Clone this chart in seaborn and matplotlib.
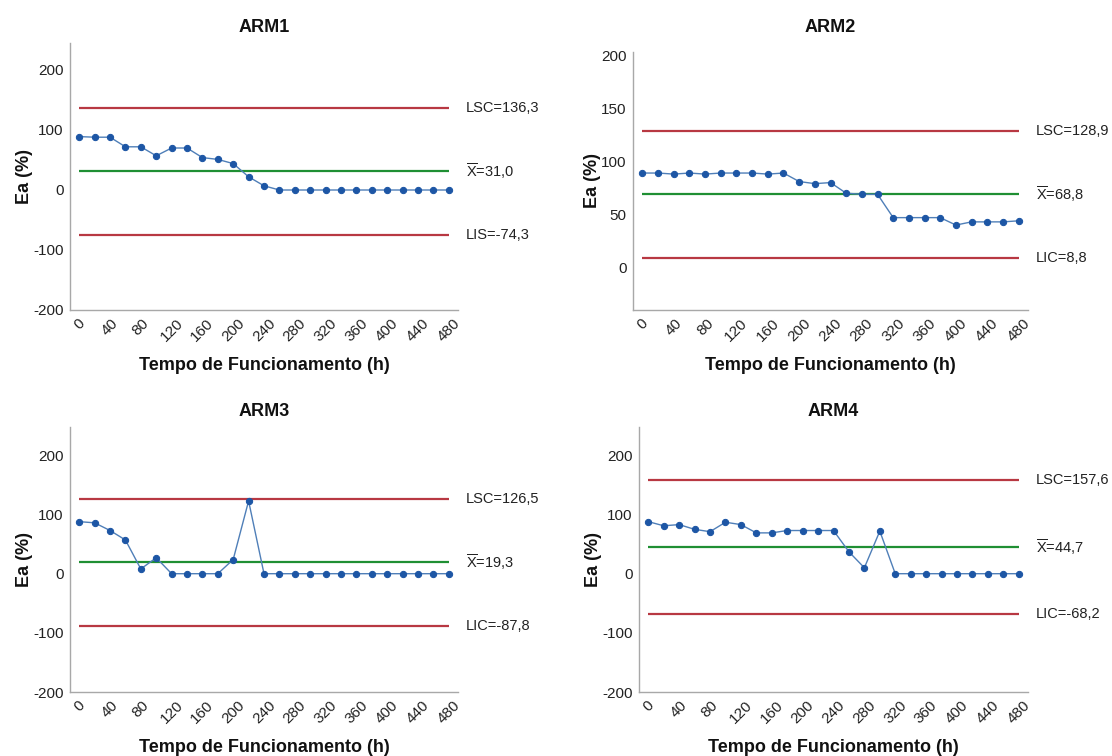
import numpy as np
import pandas as pd
import matplotlib
matplotlib.use("Agg")
import matplotlib.pyplot as plt
import seaborn as sns

# Operating time (h), sampled every 20 h
hours = list(range(0, 481, 20))

arm1 = [89, 88, 88, 72, 72, 57, 70, 70, 54, 51, 44, 22, 7,
        0, 0, 0, 0, 0, 0, 0, 0, 0, 0, 0, 0]
arm2 = [89, 89, 88, 89, 88, 89, 89, 89, 88, 89, 81, 79, 80,
        70, 69, 69, 47, 47, 47, 47, 40, 43, 43, 43, 44]
arm3 = [88, 86, 73, 57, 8, 27, 0, 0, 0, 0, 24, 123,
        0, 0, 0, 0, 0, 0, 0, 0, 0, 0, 0, 0, 0]
arm4 = [88, 81, 83, 75, 71, 87, 83, 69, 69, 73, 73, 73, 73,
        37, 10, 72, 0, 0, 0, 0, 0, 0, 0, 0, 0]

names = ["ARM1", "ARM2", "ARM3", "ARM4"]
series = [arm1, arm2, arm3, arm4]
upper_limits = [136.3, 128.9, 126.5, 157.6]
means = [31.0, 68.8, 19.3, 44.7]
lower_limits = [-74.3, 8.8, -87.8, -68.2]
lower_names = ["LIS", "LIC", "LIC", "LIC"]

y_ranges = [(-200, 245), (-40, 203), (-200, 248), (-200, 248)]
y_ticks = [[-200, -100, 0, 100, 200], [0, 50, 100, 150, 200],
           [-200, -100, 0, 100, 200], [-200, -100, 0, 100, 200]]
x_ticks = list(range(0, 481, 40))

sns.set_style("white")
plt.rcParams["font.family"] = ["Liberation Sans", "DejaVu Sans"]
plt.rcParams["mathtext.fontset"] = "custom"
plt.rcParams["mathtext.rm"] = "Liberation Sans"
plt.rcParams["mathtext.sf"] = "Liberation Sans"

W, H = 1112, 756
fig = plt.figure(figsize=(W / 100, H / 100), dpi=100)

# axes boxes in pixels: left, top, right, bottom
boxes = [(70, 43, 458, 310), (633, 52, 1028, 310),
         (70, 427, 458, 692), (639, 427, 1028, 692)]
title_pads = [8, 14.5, 8, 8]

RED = "#b83842"
GREEN = "#1f8f33"
LINE = "#4f7fb8"
MARK = "#1d56a5"
SPINE = "#a8a8a8"
TXT = "#222222"


def fmt(v):
    return f"{v:.1f}".replace(".", ",")


for i, name in enumerate(names):
    l, t, r, b = boxes[i]
    ax = fig.add_axes([l / W, (H - b) / H, (r - l) / W, (b - t) / H])
    df = pd.DataFrame({"h": hours, "ea": series[i]})

    x0, x1 = hours[0], hours[-1]
    ax.hlines([upper_limits[i], lower_limits[i]], x0, x1, color=RED, lw=1.6, zorder=1)
    ax.hlines(means[i], x0, x1, color=GREEN, lw=1.6, zorder=1)

    sns.lineplot(data=df, x="h", y="ea", ax=ax, color=LINE, lw=1.0,
                 marker="o", markersize=4.5, markerfacecolor=MARK,
                 markeredgecolor=MARK, zorder=3)

    ax.set_xlim(-12, 492)
    ax.set_ylim(*y_ranges[i])
    ax.set_xticks(x_ticks)
    ax.set_xticklabels([str(v) for v in x_ticks], rotation=45, ha="center",
                       fontsize=11, color=TXT)
    ax.set_yticks(y_ticks[i])
    ax.set_yticklabels([str(v) for v in y_ticks[i]], fontsize=11, color=TXT)
    ax.tick_params(axis="both", length=3, width=0.8, color=SPINE, pad=1.5)

    for s in ["top", "right"]:
        ax.spines[s].set_visible(False)
    for s in ["left", "bottom"]:
        ax.spines[s].set_color(SPINE)
        ax.spines[s].set_linewidth(1.0)

    ax.set_title(name, fontsize=13, fontweight="bold", pad=title_pads[i], color="#111111")
    ax.set_xlabel("Tempo de Funcionamento (h)", fontsize=13, fontweight="bold",
                  labelpad=9, color="#111111")
    ax.set_ylabel("Ea (%)", fontsize=13, fontweight="bold", labelpad=0, color="#111111")

    tx = 1.02
    trans = ax.get_yaxis_transform()
    ax.text(tx, upper_limits[i], f"LSC={fmt(upper_limits[i])}",
            transform=trans, va="center", ha="left", fontsize=10.5, color=TXT)
    ax.text(tx, means[i], r"$\overline{\mathrm{X}}$" + f"={fmt(means[i])}",
            transform=trans, va="center", ha="left", fontsize=10.5, color=TXT)
    ax.text(tx, lower_limits[i], f"{lower_names[i]}={fmt(lower_limits[i])}",
            transform=trans, va="center", ha="left", fontsize=10.5, color=TXT)

fig.savefig("out.png", dpi=100)
